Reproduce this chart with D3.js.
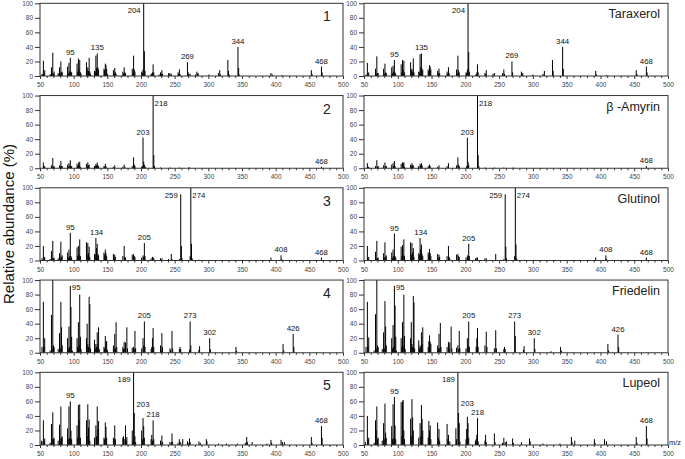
<!DOCTYPE html>
<html><head><meta charset="utf-8">
<script src="https://cdn.jsdelivr.net/npm/d3@7"></script>
<style>body{margin:0;background:#fff}svg{display:block;font-family:Arial,"Liberation Sans",sans-serif}</style>
</head><body><svg id="c" width="685" height="459"></svg>
<script>
// ---- data: [m/z, relative abundance %] ----
const p1L=[[53,3],[54,2],[55,21],[56,4],[57,8],[65,2],[66,2],[67,12],[68,4],[69,32],[70,3],[71,6],[77,4],[78,2],[79,12],[80,4],[81,20],[82,5],[83,6],[91,13],[92,4],[93,18],[94,6],[95,25],[96,6],[97,5],[105,17],[106,6],[107,24],[108,9],[109,22],[110,5],[111,3],[119,19],[120,8],[121,12],[122,7],[123,25],[124,6],[125,3],[131,7],[132,6],[133,28],[134,11],[135,31],[136,12],[137,9],[145,10],[146,8],[147,17],[148,15],[149,10],[150,3],[159,8],[160,4],[161,11],[162,5],[163,3],[173,6],[174,3],[175,12],[176,5],[177,4],[187,10],[188,4],[189,28],[190,9],[191,6],[201,6],[202,4],[203,9],[204,100],[205,34],[206,7],[215,3],[216,3],[217,5],[218,16],[219,5],[227,2],[229,5],[230,3],[231,8],[232,3],[241,4],[242,2],[243,4],[245,3],[255,5],[256,3],[257,9],[258,3],[269,19],[270,5],[271,3],[273,3],[281,2],[283,6],[284,3],[285,4],[301,2],[315,4],[317,8],[318,2],[329,22],[330,7],[331,2],[344,40],[345,11],[346,2],[393,4],[395,2],[409,1],[453,8],[454,3],[468,13],[469,5]];
const p1R=[[53,2],[55,18],[56,4],[57,5],[67,10],[68,3],[69,27],[70,4],[71,4],[79,10],[80,3],[81,17],[82,5],[83,4],[91,12],[92,4],[93,14],[94,6],[95,22],[96,5],[97,3],[105,16],[106,5],[107,22],[108,8],[109,21],[110,5],[119,19],[120,8],[121,10],[122,6],[123,24],[124,5],[131,6],[132,5],[133,30],[134,12],[135,31],[136,10],[137,8],[145,9],[146,7],[147,15],[148,13],[149,9],[159,7],[160,4],[161,10],[162,4],[173,6],[174,3],[175,12],[176,4],[187,9],[188,4],[189,28],[190,8],[191,5],[201,5],[202,4],[203,9],[204,100],[205,33],[206,6],[216,3],[217,5],[218,16],[219,5],[229,4],[230,3],[231,8],[241,3],[243,4],[255,4],[257,9],[258,3],[269,20],[270,5],[283,6],[284,3],[285,4],[300,2],[315,3],[317,7],[329,22],[330,7],[344,40],[345,10],[393,7],[394,2],[409,1],[453,8],[454,3],[468,13],[469,5]];
const p2L=[[55,8],[56,2],[57,3],[67,4],[68,2],[69,14],[70,2],[71,3],[79,4],[80,2],[81,10],[82,3],[83,3],[91,5],[92,2],[93,7],[94,3],[95,11],[96,3],[97,3],[105,6],[106,3],[107,8],[108,4],[109,9],[110,2],[119,6],[120,3],[121,8],[122,4],[123,5],[131,3],[132,3],[133,6],[134,4],[135,8],[136,4],[137,3],[145,3],[146,2],[147,6],[148,3],[159,2],[161,4],[173,2],[175,5],[176,2],[187,3],[189,15],[190,5],[191,3],[201,2],[202,3],[203,42],[204,9],[205,5],[207,2],[218,100],[219,18],[220,3],[229,1],[243,1],[257,1],[271,1],[272,1],[468,2]];
const p2R=[[55,7],[56,2],[57,2],[67,3],[69,11],[70,2],[71,3],[79,4],[81,8],[82,3],[83,3],[91,5],[93,7],[94,3],[95,10],[96,3],[105,6],[107,8],[108,7],[109,8],[110,2],[119,5],[120,3],[121,7],[122,4],[123,4],[131,3],[133,6],[134,4],[135,7],[136,4],[145,3],[147,5],[148,3],[159,2],[161,4],[173,3],[175,7],[187,4],[189,15],[190,5],[191,3],[202,3],[203,42],[204,9],[205,5],[218,100],[219,18],[220,3],[229,1],[243,1],[257,1],[271,1],[468,3]];
const p3L=[[53,3],[55,20],[56,3],[57,5],[65,2],[67,13],[68,3],[69,27],[70,3],[71,4],[77,3],[79,10],[80,4],[81,26],[82,5],[83,7],[91,11],[92,4],[93,15],[94,6],[95,38],[96,6],[97,4],[105,18],[106,6],[107,20],[108,8],[109,29],[110,6],[119,25],[120,8],[121,24],[122,10],[123,19],[124,5],[131,9],[132,8],[133,31],[134,17],[135,23],[136,9],[137,7],[145,11],[146,8],[147,15],[148,10],[149,6],[159,9],[160,4],[161,8],[162,5],[173,6],[175,20],[176,5],[177,4],[187,8],[189,9],[190,6],[191,5],[201,4],[203,7],[204,5],[205,24],[206,6],[215,3],[217,5],[218,4],[219,3],[229,3],[231,3],[241,2],[245,9],[246,2],[257,2],[259,91],[260,20],[261,3],[273,6],[274,100],[275,23],[276,3],[287,1],[393,4],[408,7],[409,2],[468,4]];
const p3R=[[55,20],[56,3],[57,5],[67,12],[68,3],[69,27],[70,3],[71,4],[79,10],[80,4],[81,25],[82,5],[83,7],[91,11],[92,4],[93,15],[94,6],[95,37],[96,6],[97,4],[105,19],[106,6],[107,21],[108,8],[109,29],[110,6],[119,25],[120,8],[121,24],[122,11],[123,17],[124,5],[131,10],[132,8],[133,31],[134,16],[135,22],[136,9],[137,6],[145,11],[146,8],[147,16],[148,10],[149,6],[159,9],[160,4],[161,8],[162,5],[173,6],[175,20],[176,5],[177,3],[187,8],[189,9],[190,6],[191,5],[201,4],[203,7],[204,5],[205,23],[206,6],[215,3],[217,4],[218,4],[229,3],[231,3],[245,9],[257,2],[259,91],[260,19],[261,3],[273,6],[274,100],[275,22],[276,3],[287,1],[393,4],[408,7],[409,2],[468,4]];
const p4L=[[53,8],[55,70],[56,8],[57,20],[65,3],[67,52],[68,6],[69,100],[70,10],[71,8],[77,5],[79,27],[80,6],[81,70],[82,35],[83,10],[91,20],[92,6],[93,36],[94,8],[95,92],[96,63],[97,22],[98,3],[105,20],[106,8],[107,42],[108,10],[109,80],[110,22],[111,5],[119,20],[120,40],[121,12],[122,8],[123,77],[124,67],[125,6],[131,18],[132,6],[133,12],[134,8],[135,28],[136,12],[137,35],[138,5],[145,8],[146,6],[147,23],[148,15],[149,16],[150,4],[159,10],[160,6],[161,26],[162,6],[163,42],[164,8],[173,8],[174,5],[175,15],[176,6],[177,14],[179,35],[180,6],[187,7],[189,8],[190,5],[191,30],[192,6],[201,6],[203,20],[204,10],[205,43],[206,8],[215,5],[216,8],[217,20],[218,34],[219,8],[229,10],[230,4],[231,27],[232,8],[243,6],[244,4],[246,30],[247,6],[257,5],[258,8],[259,5],[272,4],[273,43],[274,10],[286,4],[287,9],[302,20],[303,5],[341,8],[342,3],[411,12],[412,3],[426,26],[427,8]];
const p4R=[[53,8],[55,70],[56,8],[57,21],[65,3],[67,53],[68,6],[69,100],[70,10],[71,8],[77,5],[79,28],[80,6],[81,71],[82,36],[83,10],[91,20],[92,6],[93,38],[94,8],[95,92],[96,65],[97,22],[98,3],[105,20],[106,8],[107,42],[108,10],[109,80],[110,23],[111,5],[119,20],[120,42],[121,12],[122,8],[123,78],[124,69],[125,6],[131,17],[132,6],[133,10],[134,8],[135,28],[136,12],[137,35],[145,8],[146,16],[147,24],[148,15],[149,12],[159,10],[160,6],[161,26],[162,6],[163,41],[164,8],[173,8],[175,15],[176,6],[177,14],[179,36],[180,6],[187,7],[189,10],[190,5],[191,30],[192,6],[201,6],[203,20],[204,10],[205,43],[206,8],[216,8],[217,20],[218,34],[219,8],[229,10],[231,29],[232,8],[243,6],[245,31],[246,6],[257,5],[258,8],[259,5],[273,43],[274,23],[286,4],[287,9],[302,20],[303,5],[327,2],[341,8],[342,3],[411,12],[412,3],[426,25],[427,8]];
const p5L=[[52,6],[53,5],[55,34],[56,6],[57,9],[65,3],[67,29],[68,8],[69,45],[70,8],[71,10],[77,6],[79,28],[80,8],[81,53],[82,10],[83,12],[91,23],[92,8],[93,53],[94,10],[95,60],[96,20],[97,8],[105,27],[106,10],[107,55],[108,34],[109,56],[110,10],[119,34],[120,12],[121,56],[122,24],[123,35],[124,6],[131,10],[133,27],[134,12],[135,53],[136,22],[137,33],[145,10],[146,8],[147,31],[148,25],[149,10],[159,10],[160,8],[161,27],[162,8],[173,10],[174,12],[175,8],[177,27],[178,6],[179,11],[187,20],[188,6],[189,100],[190,44],[191,12],[192,4],[201,20],[202,8],[203,37],[204,26],[205,10],[215,8],[216,14],[217,6],[218,34],[219,8],[229,6],[231,13],[232,4],[243,4],[245,4],[246,16],[247,4],[255,3],[257,8],[259,4],[262,8],[269,5],[270,3],[272,9],[273,4],[286,5],[288,3],[297,8],[298,5],[315,2],[327,2],[343,2],[355,3],[357,11],[358,4],[365,4],[387,2],[393,7],[394,3],[408,7],[410,4],[413,4],[453,11],[454,3],[468,26],[469,10]];
const p5R=[[52,4],[55,40],[56,7],[57,10],[65,3],[67,34],[68,20],[69,53],[70,8],[71,10],[77,6],[79,30],[80,8],[81,57],[82,17],[83,10],[91,26],[92,8],[93,56],[94,10],[95,66],[96,27],[97,8],[105,59],[106,12],[107,60],[108,62],[109,20],[110,8],[119,36],[120,12],[121,63],[122,38],[123,20],[131,10],[133,30],[134,12],[135,55],[136,36],[137,20],[145,10],[146,33],[147,20],[148,27],[149,8],[159,31],[160,10],[161,22],[162,6],[173,29],[174,8],[175,14],[177,5],[186,23],[187,8],[189,100],[190,44],[191,30],[192,5],[201,8],[202,22],[203,39],[204,30],[205,10],[215,6],[216,8],[217,14],[218,37],[219,5],[229,6],[230,14],[231,4],[243,16],[244,4],[255,3],[257,10],[259,4],[261,5],[270,9],[271,3],[283,4],[295,9],[296,5],[315,2],[340,2],[357,11],[358,4],[362,6],[391,8],[392,3],[406,8],[409,5],[453,11],[454,3],[468,26],[469,9]];

// peak labels: [m/z, placement]  c = above peak, h = higher above peak, l/r = beside line at top
const lab1=[[95,"c"],[135,"c"],[204,"l"],[269,"c"],[344,"c"],[468,"c"]];
const lab2=[[203,"c"],[218,"r"],[468,"c"]];
const lab3=[[95,"c"],[134,"c"],[205,"c"],[259,"l"],[274,"r"],[408,"c"],[468,"c"]];
const lab4=[[95,"r"],[205,"c"],[273,"c"],[302,"c"],[426,"c"]];
const lab5=[[95,"c"],[189,"l"],[203,"h"],[218,"c"],[468,"c"]];

const sampleTags=["1","2","3","4","5"];
const compoundNames=["Taraxerol","\u03b2 -Amyrin","Glutinol","Friedelin","Lupeol"];
const yTicks=[0,20,40,60,80,100];
const xTicks=[50,100,150,200,250,300,350,400,450,500];
const xMinor=[60,70,80,90,110,120,130,140,160,170,180,190,210,220,230,240,260,270,280,290,310,320,330,340,360,370,380,390,410,420,430,440,460,470,480,490];

const leftSpecs=[p1L,p2L,p3L,p4L,p5L];
const rightSpecs=[p1R,p2R,p3R,p4R,p5R];
const labelSets=[lab1,lab2,lab3,lab4,lab5];

const svg=d3.select("#c");
const cols=[[40,343],[364,668]];
const rowTop=i=>3.3+i*92.25, rowH=72.7;

function drawPanel(spec,labels,col,row,tag,isName){
  const [x0,x1]=cols[col];
  const top=rowTop(row), bot=top+rowH;
  const x=d3.scaleLinear().domain([50,500]).range([x0,x1]);
  const y=d3.scaleLinear().domain([0,100]).range([bot,top]);
  const g=svg.append("g");
  g.append("g").selectAll("line").data(spec).join("line")
    .attr("x1",d=>x(d[0])).attr("x2",d=>x(d[0]))
    .attr("y1",y(0)).attr("y2",d=>y(Math.min(100,d[1])))
    .attr("stroke","#000").attr("stroke-width",1);
  g.append("rect").attr("x",x0).attr("y",top).attr("width",x1-x0).attr("height",rowH)
    .attr("fill","none").attr("stroke","#333").attr("stroke-width",1);
  const ya=g.append("g").attr("transform",`translate(${x0},0)`)
    .call(d3.axisLeft(y).tickValues(yTicks).tickSize(5).tickPadding(2));
  const xa=g.append("g").attr("transform",`translate(0,${bot})`)
    .call(d3.axisBottom(x).tickValues(xTicks).tickSize(3).tickPadding(3.5));
  const xm=g.append("g").attr("transform",`translate(0,${bot})`)
    .call(d3.axisBottom(x).tickValues(xMinor).tickSize(2).tickFormat(""));
  [ya,xa,xm].forEach(a=>{
    a.select(".domain").remove();
    a.selectAll("line").attr("stroke","#333");
    a.selectAll("text").attr("font-size","6.5px").attr("fill","#444").attr("font-family","Arial, 'Liberation Sans', sans-serif");
  });
  // label height = tallest peak within ±2 m/z of the labelled mass
  const hOf=m=>d3.max(spec.filter(d=>Math.abs(d[0]-m)<=2),d=>d[1])||0;
  g.append("g").selectAll("text").data(labels).join("text")
    .attr("x",d=>d[1]==="l"?x(d[0])-3:d[1]==="r"?x(d[0])+1.5:x(d[0]))
    .attr("y",d=>d[1]==="c"?y(hOf(d[0]))-3:d[1]==="h"?y(hOf(d[0]))-11:top+10)
    .attr("text-anchor",d=>d[1]==="l"?"end":d[1]==="r"?"start":"middle")
    .attr("font-size","7.8px").attr("fill","#111").text(d=>d[0]);
  if(isName){
    g.append("text").attr("x",660).attr("y",top+15).attr("text-anchor","end")
      .attr("font-size","12.5px").attr("fill","#222").text(tag);
  } else {
    g.append("text").attr("x",327).attr("y",top+18).attr("text-anchor","middle")
      .attr("font-size","14px").attr("fill","#222").text(tag);
  }
}

for(let i=0;i<5;i++){
  drawPanel(leftSpecs[i],labelSets[i],0,i,sampleTags[i],false);
  drawPanel(rightSpecs[i],labelSets[i],1,i,compoundNames[i],true);
}

svg.append("text").attr("transform","translate(14,224) rotate(-90)")
  .attr("text-anchor","middle").attr("font-size","15px").attr("fill","#111")
  .text("Relative abundance (%)");
svg.append("text").attr("x",669).attr("y",445).attr("font-size","7.5px").attr("fill","#222").text("m/z");
</script>
</body></html>
